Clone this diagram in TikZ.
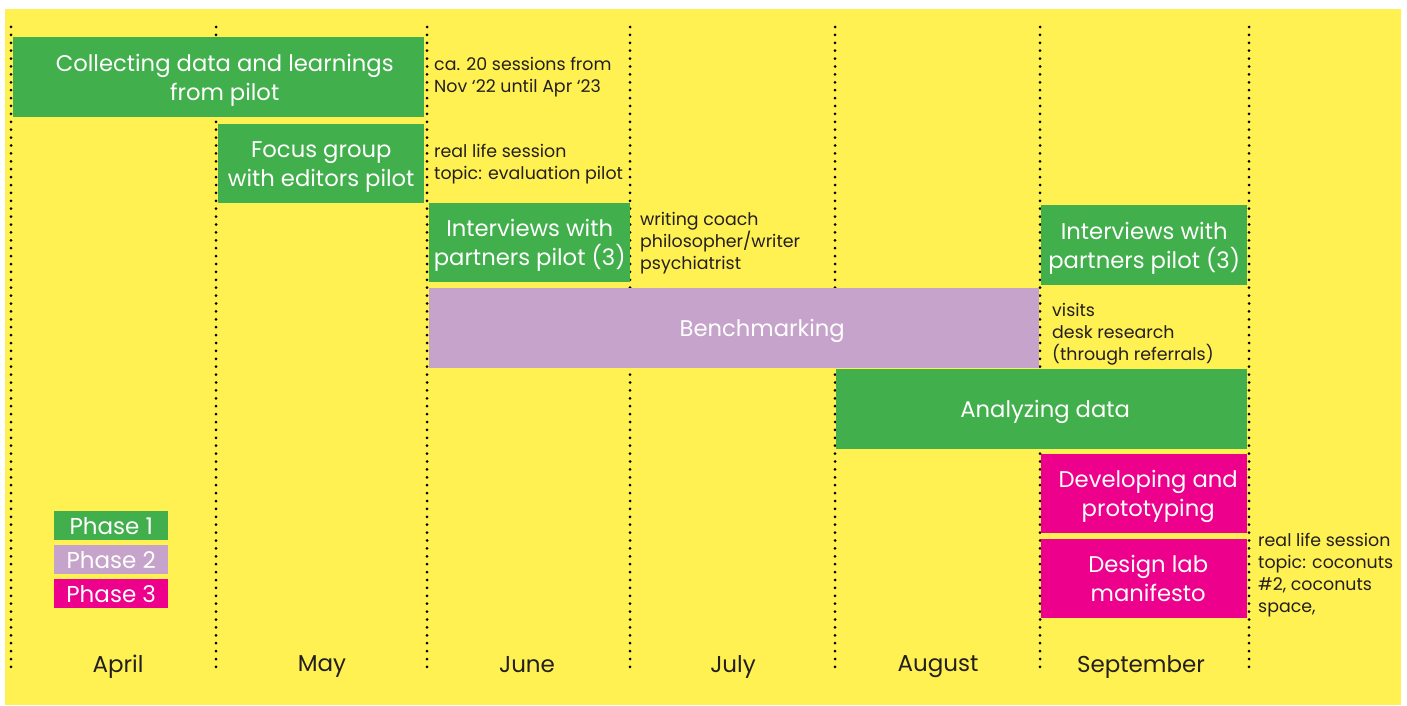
\documentclass[tikz,border=0pt]{standalone}
\usepackage{fontspec}
\setmainfont{Poppins}
\definecolor{paper}{HTML}{FFF152}
\definecolor{phaseone}{HTML}{41AF4B}
\definecolor{phasetwo}{HTML}{C6A3CB}
\definecolor{phasethree}{HTML}{EC008C}
\definecolor{ink}{HTML}{231F20}
\begin{document}
\begin{tikzpicture}[x=1pt,y=-1pt]
  \tikzstyle{bar}=[anchor=north west,inner sep=0pt,text depth=0pt,text=white,align=center,font=\fontsize{22.7}{29}\selectfont]
  \tikzstyle{note}=[anchor=west,inner sep=0pt,align=left,text=ink,font=\fontsize{17.4}{22}\selectfont]
  \tikzstyle{month}=[inner sep=0pt,text depth=0pt,text=ink,font=\fontsize{23}{26}\selectfont]
  \tikzstyle{legend}=[anchor=north west,inner sep=0pt,text depth=0pt,text=white,minimum width=114pt,minimum height=29pt,font=\fontsize{23}{26}\selectfont]
  \tikzstyle{sep}=[line width=3pt,dash pattern=on 0pt off 7.9pt,line cap=round]

  \fill[white] (0,0) rectangle (1407,706);
  \fill[paper] (5,9) rectangle (1401,705);

  % month separators
  \foreach \x in {11,216,427,630,835,1040,1249}
    \draw[sep] (\x,27) -- (\x,672);

  % phase 1
  \node(collect) [bar,fill=phaseone,minimum width=411pt,minimum height=80pt] at (13,37) {\hspace*{12pt}Collecting data and learnings\\\hspace*{12pt}from pilot};
  \node(focus) [bar,fill=phaseone,minimum width=206pt,minimum height=79pt] at (218,124) {Focus group\\with editors pilot};
  \node(interviewjune) [bar,fill=phaseone,minimum width=201pt,minimum height=79pt] at (429,203) {Interviews with\\partners pilot (3)};
  \node(interviewsept) [bar,fill=phaseone,minimum width=206pt,minimum height=80pt] at (1041,205) {Interviews with\\partners pilot (3)};
  \node(analyze) [bar,fill=phaseone,minimum width=411pt,minimum height=80pt] at (836,369) {\hspace*{7pt}Analyzing data};

  % phase 2
  \node(bench) [bar,fill=phasetwo,minimum width=610pt,minimum height=80pt] at (429,288) {\hspace*{56pt}Benchmarking};

  % phase 3
  \node(develop) [bar,fill=phasethree,minimum width=206pt,minimum height=79pt] at (1041,454) {\hspace*{8pt}Developing and\\\hspace*{8pt}prototyping};
  \node(manifesto) [bar,fill=phasethree,minimum width=206pt,minimum height=79pt] at (1041,539) {\hspace*{8pt}Design lab\\\hspace*{8pt}manifesto};

  % notes
  \node(collectnote) [note] at (434,77) {ca. 20 sessions from\\Nov ‘22 until Apr ‘23};
  \node(focusnote) [note] at (434,164) {real life session\\topic: evaluation pilot};
  \node(interviewnote) [note] at (640,243) {writing coach\\philosopher/writer\\psychiatrist};
  \node(benchnote) [note] at (1052,334) {visits\\desk research\\(through referrals)};
  \node(manifestonote) [note] at (1258,575) {real life session\\topic: coconuts\\\#2, coconuts\\space,};

  % legend
  \node(legendone) [legend,fill=phaseone] at (54,511) {Phase 1};
  \node(legendtwo) [legend,fill=phasetwo] at (54,545) {Phase 2};
  \node(legendthree) [legend,fill=phasethree] at (54,579) {Phase 3};

  % months
  \node(april) [month] at (118,664) {April};
  \node(may) [month] at (322,664) {May};
  \node(june) [month] at (527,664) {June};
  \node(july) [month] at (733,664) {July};
  \node(august) [month] at (938,664) {August};
  \node(september) [month] at (1141,664) {September};
\end{tikzpicture}
\end{document}
